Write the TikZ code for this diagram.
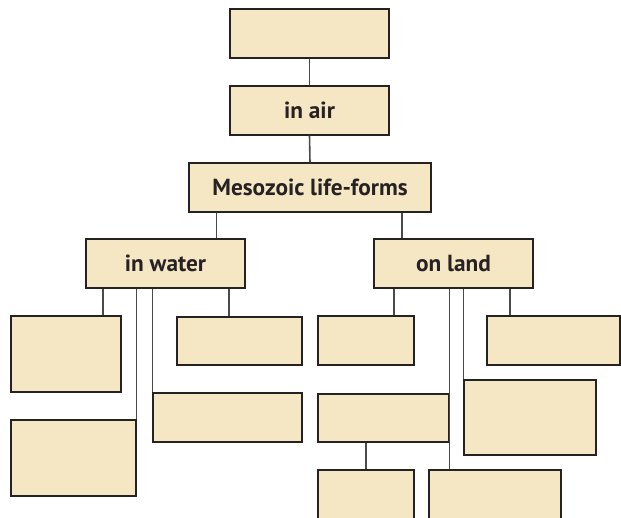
\documentclass[tikz,border=0pt]{standalone}
\usepackage{fontspec}
\setmainfont{PT Sans}
\begin{document}
\begin{tikzpicture}[x=1pt,y=-1pt]
\definecolor{boxfill}{HTML}{F5E6C4}
\definecolor{boxline}{HTML}{262223}
\definecolor{conn}{HTML}{4A4A4A}
\tikzset{
  box/.style={draw=boxline, fill=boxfill, line width=1.2pt, inner sep=0pt, font=\fontsize{23.3}{25}\selectfont\bfseries, text=boxline},
  link/.style={draw=conn, line width=1.6pt}
}
\clip (0,0) rectangle (621,517);
\fill[white] (0,0) rectangle (621,517);
% boxes: center, width, height
\node[box, minimum width=159pt, minimum height=49pt] (top)   at (309.5,33.5) {};
\node[box, minimum width=159pt, minimum height=49pt] (air)   at (309.5,110.5) {in air};
\node[box, minimum width=242pt, minimum height=49pt] (meso)  at (310,187.5) {Mesozoic life-forms};
\node[box, minimum width=159pt, minimum height=49pt] (water) at (165.5,263.5) {in water};
\node[box, minimum width=159pt, minimum height=49pt] (land)  at (453.5,263.5) {on land};
\node[box, minimum width=110pt, minimum height=76pt] (A) at (66,354) {};
\node[box, minimum width=125pt, minimum height=48pt] (B) at (239.5,341) {};
\node[box, minimum width=149pt, minimum height=49pt] (C) at (227.5,417.5) {};
\node[box, minimum width=125pt, minimum height=76pt] (D) at (73.5,458) {};
\node[box, minimum width=96pt, minimum height=49pt] (E) at (366,340.5) {};
\node[box, minimum width=133pt, minimum height=49pt] (F) at (553.5,340.5) {};
\node[box, minimum width=131pt, minimum height=48pt] (G) at (383.5,418) {};
\node[box, minimum width=132pt, minimum height=75pt] (H) at (530,417.5) {};
\node[box, minimum width=132pt, minimum height=60pt] (I) at (495,500) {};
\node[box, minimum width=96pt, minimum height=60pt] (J) at (366,500) {};
% x positions of connectors
\coordinate (xmW) at (216.5,0);
\coordinate (xmL) at (402,0);
\coordinate (xwA) at (103,0);
\coordinate (xwB) at (229,0);
\coordinate (xlE) at (394,0);
\coordinate (xlF) at (510,0);
\coordinate (xgJ) at (366,0);
% connectors
\draw[link] (top.south) -- (air.north);
\draw[link] (air.south) -- (meso.north);
\draw[link] (meso.south -| xmW) -- (water.north -| xmW);
\draw[link] (meso.south -| xmL) -- (land.north -| xmL);
\draw[link] (water.south -| xwA) -- (A.north -| xwA);
\draw[link] (water.south -| D.north east) -- (D.north east);
\draw[link] (water.south -| C.north west) -- (C.north west);
\draw[link] (water.south -| xwB) -- (B.north -| xwB);
\draw[link] (land.south -| xlE) -- (E.north -| xlE);
\draw[link] (land.south -| G.north east) -- (I.north -| G.north east);
\draw[link] (land.south -| H.north west) -- (H.north west);
\draw[link] (land.south -| xlF) -- (F.north -| xlF);
\draw[link] (G.south -| xgJ) -- (J.north -| xgJ);
\end{tikzpicture}
\end{document}
